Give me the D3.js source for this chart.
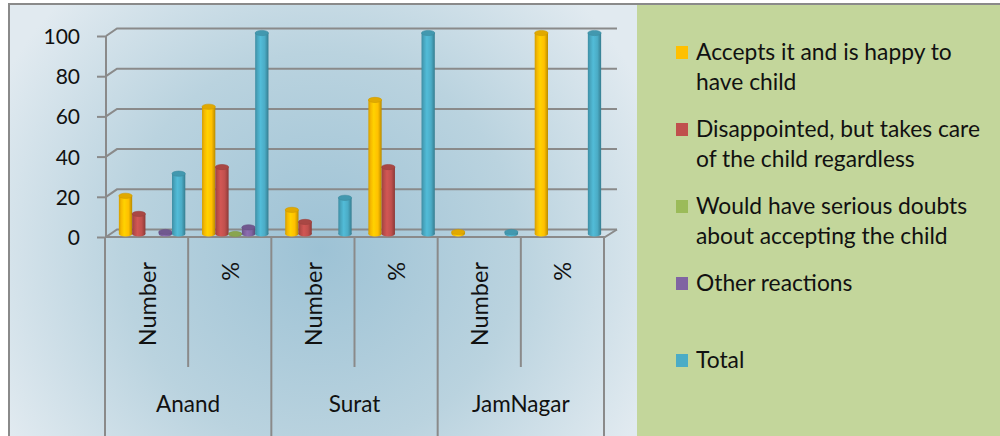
<!DOCTYPE html>
<html>
<head>
<meta charset="utf-8">
<script src="https://cdn.jsdelivr.net/npm/d3@7"></script>
<style>
  html, body { margin: 0; padding: 0; background: #ffffff; }
  svg { display: block; }
  text { font-family: Lato, "Open Sans", sans-serif; fill: #111; }
</style>
</head>
<body>
<svg id="chart" width="1000" height="436"></svg>
<script>
// Child-acceptance responses by district: counts and percentages
const cities = ["Anand", "Surat", "JamNagar"];
const measures = ["Number", "%"];
const seriesNames = [
  "Accepts it and is happy to have child",
  "Disappointed, but takes care of the child regardless",
  "Would have serious doubts about accepting the child",
  "Other reactions",
  "Total"
];
const legendLines = [
  ["Accepts it and is happy to", "have child"],
  ["Disappointed, but takes care", "of the child regardless"],
  ["Would have serious doubts", "about accepting the child"],
  ["Other reactions"],
  ["Total"]
];
const seriesColors = ["#FFC000", "#C0504D", "#9BBB59", "#8064A2", "#4BACC6"];

// values per series, ordered Anand-Number, Anand-%, Surat-Number, Surat-%, JamNagar-Number, JamNagar-%
const acceptsValues      = [19, 63.3, 12, 66.7, 1, 100];
const disappointedValues = [10, 33.3, 6, 33.3, null, null];
const doubtsValues       = [null, 0, null, null, null, null];
const otherValues        = [1, 3.3, null, null, null, null];
const totalValues        = [30, 100, 18, 100, 1, 100];
const yTicks = [0, 20, 40, 60, 80, 100];

const seriesValues = [acceptsValues, disappointedValues, doubtsValues, otherValues, totalValues];

const svg = d3.select("#chart");
const defs = svg.append("defs");

// panel background gradient
const bg = defs.append("radialGradient").attr("id", "plotBg")
  .attr("gradientUnits", "userSpaceOnUse")
  .attr("cx", 320).attr("cy", 250).attr("r", 360);
bg.append("stop").attr("offset", "0%").attr("stop-color", "#9dc2d5");
bg.append("stop").attr("offset", "55%").attr("stop-color", "#bad3df");
bg.append("stop").attr("offset", "100%").attr("stop-color", "#e1eaf0");

// cylinder shading per series
seriesColors.forEach((c, i) => {
  const g = defs.append("linearGradient").attr("id", "cyl" + i)
    .attr("x1", "0%").attr("x2", "100%").attr("y1", "0%").attr("y2", "0%");
  const base = d3.color(c);
  g.append("stop").attr("offset", "0%").attr("stop-color", base.darker(0.55));
  g.append("stop").attr("offset", "18%").attr("stop-color", base.darker(0.1));
  g.append("stop").attr("offset", "40%").attr("stop-color", base.brighter(0.25));
  g.append("stop").attr("offset", "72%").attr("stop-color", base);
  g.append("stop").attr("offset", "100%").attr("stop-color", base.darker(0.9));
});

// panels
svg.append("rect").attr("x", 9).attr("y", 4).attr("width", 628).attr("height", 432)
  .attr("fill", "url(#plotBg)");
svg.append("rect").attr("x", 637).attr("y", 5).attr("width", 363).attr("height", 431)
  .attr("fill", "#c3d69b");
const lineColor = "#8a8a8a";
svg.append("line").attr("x1", 8).attr("x2", 1000).attr("y1", 4).attr("y2", 4)
  .attr("stroke", lineColor).attr("stroke-width", 2);
svg.append("line").attr("x1", 9).attr("x2", 9).attr("y1", 4).attr("y2", 436)
  .attr("stroke", lineColor).attr("stroke-width", 2);

// scales
const xOuter = d3.scaleBand().domain(cities).range([105, 604]);
const xSub = d3.scaleBand().domain(measures).range([0, xOuter.bandwidth()]);
const xSeries = d3.scaleBand().domain(d3.range(seriesNames.length))
  .range([0, xSub.bandwidth()]).paddingInner(0).paddingOuter(0.63);
const yFront = d3.scaleLinear().domain([0, 100]).range([237, 36]);

// 3D depth offsets
const backDx = 11, backDy = -7.5;
const midDx = 5.5, midDy = -3;

// gridlines on back wall with diagonal connectors
const grid = svg.append("g").attr("stroke", lineColor).attr("stroke-width", 2).attr("fill", "none");
yTicks.forEach(t => {
  const y = yFront(t);
  grid.append("path").attr("d",
    `M106,${y} L${106 + backDx},${y + backDy} L${604 + 13},${y + backDy}`);
});

// y axis
const yAxis = d3.axisLeft(yFront).tickValues(yTicks).tickSize(9).tickPadding(17);
const yg = svg.append("g").attr("transform", "translate(106,0)").call(yAxis);
yg.select(".domain").attr("stroke", lineColor).attr("stroke-width", 2)
  .attr("d", `M0,${yFront(100)}V${yFront(0)}`);
yg.selectAll(".tick line").attr("stroke", lineColor).attr("stroke-width", 2);
yg.selectAll(".tick text").attr("font-family", "Lato, sans-serif").attr("font-size", 21)
  .attr("fill", "#111").attr("dy", "0.36em");

// floor front and side edges
svg.append("path").attr("fill", "none").attr("stroke", lineColor).attr("stroke-width", 2)
  .attr("d", `M106,${yFront(0)} L605,${yFront(0)} L${605 + 12},${yFront(0) + backDy}`);

// cylinders
const bars = svg.append("g");
const ry = 2.6;
cities.forEach((city, ci) => {
  measures.forEach((m, mi) => {
    const idx = ci * measures.length + mi;
    seriesValues.forEach((vals, si) => {
      const v = vals[idx];
      if (v === null || v === undefined) return;
      const x0 = xOuter(city) + xSub(m) + xSeries(si) + midDx;
      const w = xSeries.bandwidth();
      const yb = yFront(0) + midDy;
      const yt = yFront(v) + midDy;
      const g = bars.append("g");
      const base = d3.color(seriesColors[si]);
      g.append("ellipse").attr("cx", x0 + w / 2).attr("cy", yb).attr("rx", w / 2).attr("ry", ry)
        .attr("fill", `url(#cyl${si})`);
      if (yb - yt > 0) {
        g.append("rect").attr("x", x0).attr("y", yt).attr("width", w).attr("height", yb - yt)
          .attr("fill", `url(#cyl${si})`);
      }
      g.append("ellipse").attr("cx", x0 + w / 2).attr("cy", yt).attr("rx", w / 2).attr("ry", ry)
        .attr("fill", base.darker(0.35)).attr("stroke", base.darker(0.6)).attr("stroke-width", 0.6);
    });
  });
});

// category axis separators and labels
const cat = svg.append("g");
const sepColor = lineColor;
cities.forEach((city, ci) => {
  const x = xOuter(city);
  cat.append("line").attr("x1", x).attr("x2", x).attr("y1", yFront(0)).attr("y2", 436)
    .attr("stroke", sepColor).attr("stroke-width", 2);
  const xi = x + xSub("%");
  cat.append("line").attr("x1", xi).attr("x2", xi).attr("y1", yFront(0)).attr("y2", 367)
    .attr("stroke", sepColor).attr("stroke-width", 2);
  measures.forEach(m => {
    const cx = x + xSub(m) + xSub.bandwidth() / 2;
    cat.append("text").attr("transform", `translate(${cx},262) rotate(-90)`)
      .attr("text-anchor", "end").attr("dominant-baseline", "central")
      .attr("font-size", 23.5).text(m);
  });
  cat.append("text").attr("x", x + xOuter.bandwidth() / 2).attr("y", 412)
    .attr("text-anchor", "middle").attr("font-size", 22.5).text(city);
});
cat.append("line").attr("x1", 604).attr("x2", 604).attr("y1", yFront(0)).attr("y2", 436)
  .attr("stroke", sepColor).attr("stroke-width", 2);

// legend
const legendY = [60, 137, 214, 291, 368];
const legend = svg.append("g");
seriesNames.forEach((name, i) => {
  const y = legendY[i];
  legend.append("rect").attr("x", 676).attr("y", y - 14).attr("width", 12).attr("height", 13)
    .attr("fill", seriesColors[i]);
  const t = legend.append("text").attr("x", 696).attr("y", y).attr("font-size", 22.8);
  legendLines[i].forEach((ln, k) => {
    t.append("tspan").attr("x", 696).attr("dy", k === 0 ? 0 : 29.5).text(ln);
  });
});
</script>
</body>
</html>
